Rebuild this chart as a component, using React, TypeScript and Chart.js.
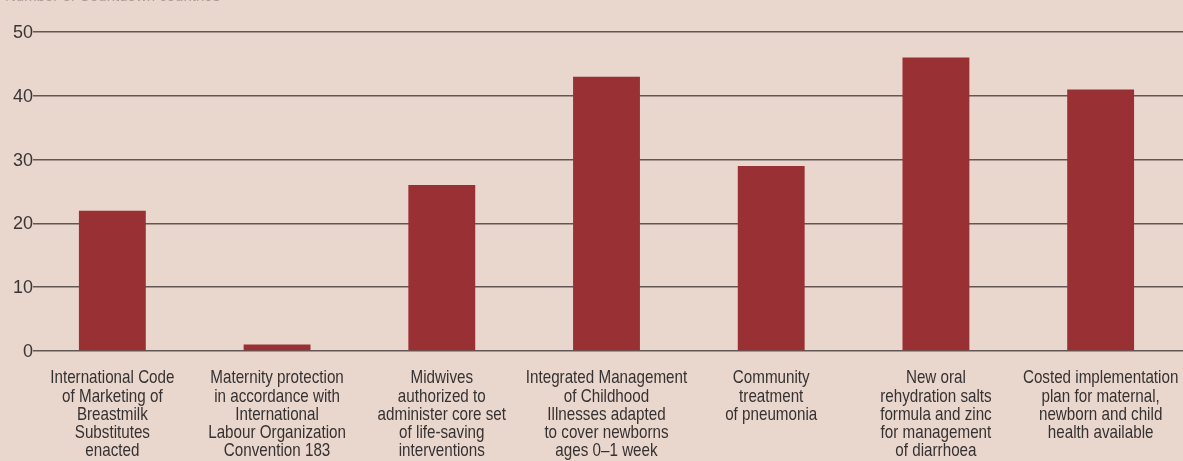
import React, { useEffect, useRef } from "react";
import { Chart, registerables } from "chart.js";

Chart.register(...registerables);

const categories: string[][] = [
  ["International Code", "of Marketing of", "Breastmilk", "Substitutes", "enacted"],
  ["Maternity protection", "in accordance with", "International", "Labour Organization", "Convention 183"],
  ["Midwives", "authorized to", "administer core set", "of life-saving", "interventions"],
  ["Integrated Management", "of Childhood", "Illnesses adapted", "to cover newborns", "ages 0–1 week"],
  ["Community", "treatment", "of pneumonia"],
  ["New oral", "rehydration salts", "formula and zinc", "for management", "of diarrhoea"],
  ["Costed implementation", "plan for maternal,", "newborn and child", "health available"],
];
const values: number[] = [22, 1, 26, 43, 29, 46, 41];
const yTicks: number[] = [0, 10, 20, 30, 40, 50];
const titleText = "Number of Countdown countries";

const BG = "#e9d6cd";
const BAR = "#993034";
const LABEL_FONT = "19px 'Liberation Sans', Arial, sans-serif";
const LABEL_SQUEEZE = 0.8;
const LABEL_LINE = 18.3;
const LABEL_GAP = 27;

export default function App() {
  const ref = useRef<HTMLCanvasElement | null>(null);
  useEffect(() => {
    document.body.style.margin = "0";
    document.body.style.background = BG;
    const extras = {
      id: "extras",
      beforeDraw(chart: any) {
        const ctx = chart.ctx;
        ctx.save();
        ctx.fillStyle = "#a89c98";
        ctx.font = "15px 'Liberation Sans', Arial, sans-serif";
        ctx.textBaseline = "alphabetic";
        ctx.fillText(titleText, 5, 1);
        ctx.restore();
      },
      afterDraw(chart: any) {
        const ctx = chart.ctx;
        const xs = chart.scales.x;
        const ys = chart.scales.y;
        const area = chart.chartArea;
        const base = area.bottom + LABEL_GAP;
        ctx.save();
        // y tick labels
        ctx.font = "18px 'Liberation Sans', Arial, sans-serif";
        ctx.textAlign = "right";
        ctx.textBaseline = "middle";
        yTicks.forEach((v) => {
          const y = ys.getPixelForValue(v);
          ctx.fillStyle = BG;
          ctx.fillRect(area.left - 1, y - 2, 4, 4);
          ctx.fillStyle = "#3a3636";
          ctx.fillText(String(v), area.left + 3, y + 1);
        });
        // x category labels
        ctx.fillStyle = "#363232";
        ctx.font = LABEL_FONT;
        ctx.textAlign = "center";
        ctx.textBaseline = "middle";
        categories.forEach((lines, i) => {
          const cx = xs.getPixelForTick(i);
          lines.forEach((line, j) => {
            ctx.save();
            ctx.translate(cx, base + j * LABEL_LINE);
            ctx.scale(LABEL_SQUEEZE, 1);
            ctx.fillText(line, 0, 0);
            ctx.restore();
          });
        });
        ctx.restore();
      },
    };
    const chart = new Chart(ref.current!, {
      type: "bar",
      data: {
        labels: categories,
        datasets: [
          {
            data: values,
            backgroundColor: BAR,
            borderWidth: 0,
            barPercentage: 1,
            categoryPercentage: 0.406,
          },
        ],
      },
      plugins: [extras],
      options: {
        animation: false,
        responsive: false,
        maintainAspectRatio: false,
        layout: { padding: { top: 32, right: 0, left: 0, bottom: 0 } },
        plugins: { legend: { display: false }, tooltip: { enabled: false }, title: { display: false } },
        scales: {
          x: {
            grid: { display: false, drawTicks: false },
            border: { display: false },
            ticks: { display: false, autoSkip: false, maxRotation: 0, minRotation: 0 },
            afterFit: (s: any) => {
              s.height = 110;
              s.paddingLeft = 0;
              s.paddingRight = 0;
            },
          },
          y: {
            min: 0,
            max: 50,
            afterBuildTicks: (s: any) => {
              s.ticks = yTicks.map((v) => ({ value: v }));
            },
            grid: { color: "#625755", lineWidth: 1.5, drawTicks: false },
            border: { display: false },
            ticks: { display: false },
            afterFit: (s: any) => {
              s.width = 30;
              s.paddingTop = 0;
              s.paddingBottom = 0;
            },
          },
        },
      },
    });
    return () => chart.destroy();
  }, []);
  return (
    <div style={{ width: 1183, height: 461, background: BG }}>
      <canvas ref={ref} width={1183} height={461} style={{ display: "block" }} />
    </div>
  );
}
